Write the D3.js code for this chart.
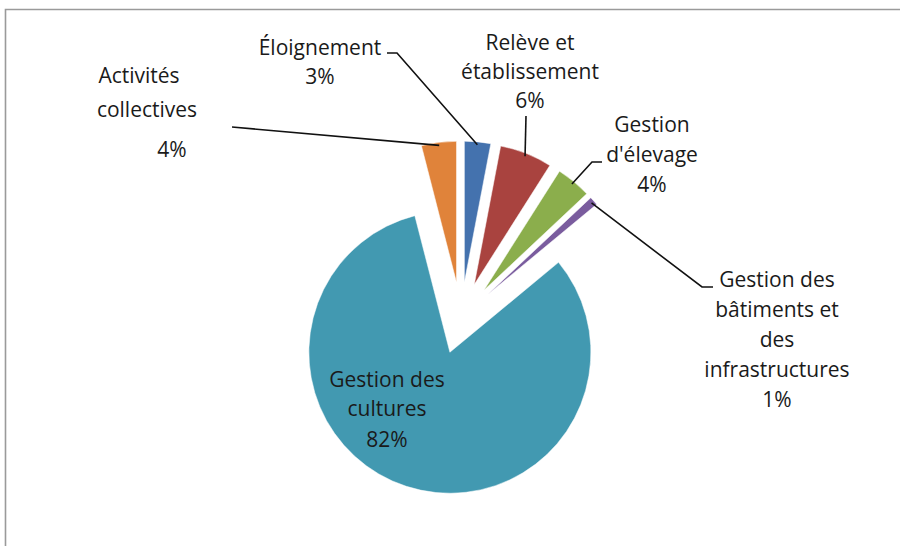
<!DOCTYPE html>
<html>
<head>
<meta charset="utf-8">
<script src="https://cdn.jsdelivr.net/npm/d3@7"></script>
<style>
	body { margin: 0; background: #fff; }
	svg { display: block; }
	.sliceLabel { font-family: 'Open Sans', 'Noto Sans', sans-serif; font-size: 21px; fill: #1a1a1a; text-anchor: middle; }
	.leader { fill: none; stroke: #111; stroke-width: 1.6; }
</style>
</head>
<body>
<div id="chart"></div>
<script>
//===============================================
//-------------------- DATA ---------------------
//===============================================
var categories = ['Éloignement', 'Relève et établissement', "Gestion d'élevage",
	'Gestion des bâtiments et des infrastructures', 'Gestion des cultures', 'Activités collectives'];
var values = [3, 6, 4, 1, 82, 4];
var labelLines = [
	['Éloignement', '3%'],
	['Relève et', 'établissement', '6%'],
	['Gestion', "d'élevage", '4%'],
	['Gestion des', 'bâtiments et', 'des', 'infrastructures', '1%'],
	['Gestion des', 'cultures', '82%'],
	['Activités', 'collectives', '4%']
];
var colors = ['#4472ae', '#a9433f', '#8bae4c', '#7a5c9e', '#4299b1', '#e0833a'];

//===============================================
//------------------- LAYOUT --------------------
//===============================================
var width = 900;
var height = 546;
var cx = 461;
var cy = 318;
var radius = 141;
var explode = 36;

// x, first baseline, line heights and leader elbow points for each label
var labelLayout = [
	{ x: 320, y: 55, dy: [0, 29], leader: [[387, 53], [397, 53]] },
	{ x: 530, y: 50, dy: [0, 29, 29], leader: [[526, 116]] },
	{ x: 652, y: 132, dy: [0, 30, 30], leader: [[602, 162], [592, 162]] },
	{ x: 777, y: 287, dy: [0, 30, 30, 30, 30], leader: [[713, 287], [702, 287]] },
	{ x: 387, y: 387, dy: [0, 29, 31], leader: null },
	{ x: 147, y: 83, dy: [0, 34, 40], lineX: [139, 147, 172], leader: [[232, 127]] }
];

var data = categories.map(function (c, i) {
	return { name: c, value: values[i], lines: labelLines[i], color: colors[i], layout: labelLayout[i] };
});

var svg = d3.select('#chart').append('svg')
	.attr('width', width)
	.attr('height', height);

// chart area frame (only top and left edges show)
svg.append('path')
	.attr('d', 'M5.5,' + height + 'V9.5H' + width)
	.attr('fill', 'none')
	.attr('stroke', '#9a9a9a')
	.attr('stroke-width', 1.6);

//===============================================
//-------------------- PIE ----------------------
//===============================================
var pie = d3.pie()
	.sort(null)
	.value(function (d) { return d.value; });

var arc = d3.arc()
	.innerRadius(0)
	.outerRadius(radius);

var arcs = pie(data);

function midAngle (d) { return (d.startAngle + d.endAngle) / 2; }

function offset (d, dist) {
	var a = midAngle(d);
	return [Math.sin(a) * dist, -Math.cos(a) * dist];
}

var slices = svg.append('g')
	.attr('transform', 'translate(' + cx + ',' + cy + ')')
	.selectAll('path')
	.data(arcs)
	.enter().append('path')
	.attr('d', arc)
	.attr('transform', function (d) {
		var o = offset(d, explode);
		return 'translate(' + o[0] + ',' + o[1] + ')';
	})
	.attr('fill', function (d) { return d.data.color; })
	.attr('stroke', '#fff')
	.attr('stroke-width', 0.5);

//===============================================
//------------------ LABELS ---------------------
//===============================================
var line = d3.line();

svg.append('g').selectAll('path')
	.data(arcs.filter(function (d) { return d.data.layout.leader; }))
	.enter().append('path')
	.attr('class', 'leader')
	.attr('d', function (d) {
		var o = offset(d, explode + radius - 3);
		var pts = d.data.layout.leader.concat([[cx + o[0], cy + o[1]]]);
		return line(pts);
	});

var labels = svg.append('g').selectAll('text')
	.data(arcs)
	.enter().append('text')
	.attr('class', 'sliceLabel')
	.attr('x', function (d) { return d.data.layout.x; })
	.attr('y', function (d) { return d.data.layout.y; });

labels.selectAll('tspan')
	.data(function (d) {
		var lay = d.data.layout;
		return d.data.lines.map(function (t, i) {
			return { text: t, x: lay.lineX ? lay.lineX[i] : lay.x, dy: lay.dy[i] };
		});
	})
	.enter().append('tspan')
	.attr('x', function (d) { return d.x; })
	.attr('dy', function (d) { return d.dy; })
	.text(function (d) { return d.text; });
</script>
</body>
</html>
